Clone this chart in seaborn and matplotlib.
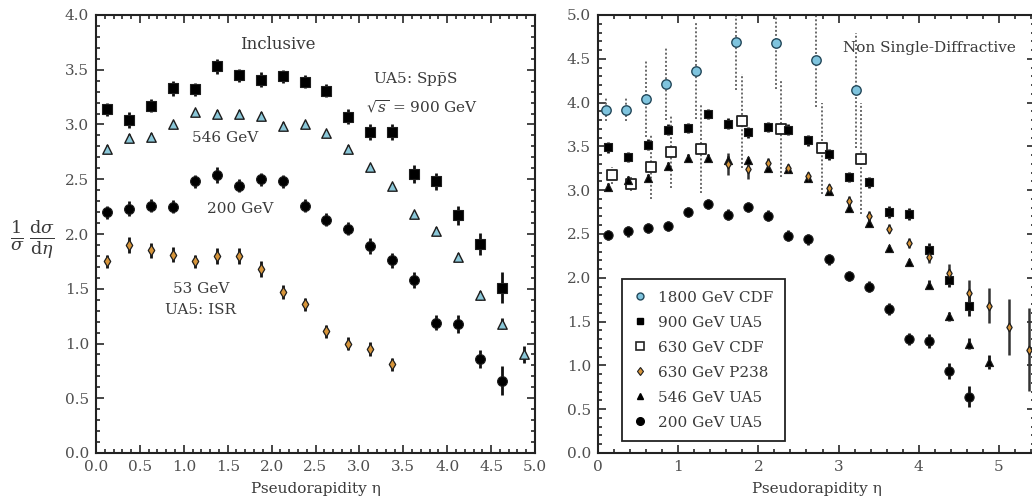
import matplotlib
matplotlib.use("Agg")
import matplotlib.pyplot as plt
from matplotlib.lines import Line2D
from matplotlib.ticker import MultipleLocator, FormatStrFormatter
import seaborn as sns
import pandas as pd

sns.set_style("ticks")
plt.rcParams["font.family"] = ["DejaVu Serif"]
plt.rcParams["mathtext.fontset"] = "dejavuserif"

# ---------------- Inclusive (UA5, ISR) ----------------
eta_incl = [0.125, 0.375, 0.625, 0.875, 1.125, 1.375, 1.625, 1.875, 2.125, 2.375,
            2.625, 2.875, 3.125, 3.375, 3.625, 3.875, 4.125, 4.375, 4.625, 4.875]

incl_900 = [3.14, 3.04, 3.17, 3.33, 3.32, 3.53, 3.45, 3.41, 3.44, 3.39,
            3.31, 3.07, 2.93, 2.93, 2.55, 2.48, 2.17, 1.91, 1.51]
incl_900_err = [0.06, 0.07, 0.06, 0.07, 0.06, 0.07, 0.06, 0.07, 0.06, 0.06,
                0.06, 0.07, 0.07, 0.07, 0.08, 0.08, 0.09, 0.10, 0.14]

incl_546 = [2.78, 2.88, 2.89, 3.00, 3.11, 3.10, 3.10, 3.08, 2.99, 3.00,
            2.92, 2.78, 2.61, 2.44, 2.18, 2.03, 1.79, 1.44, 1.18, 0.90]
incl_546_err = [0.03, 0.03, 0.03, 0.03, 0.03, 0.03, 0.03, 0.03, 0.03, 0.03,
                0.03, 0.03, 0.03, 0.03, 0.03, 0.03, 0.04, 0.04, 0.05, 0.08]

incl_200 = [2.20, 2.23, 2.26, 2.25, 2.48, 2.54, 2.44, 2.50, 2.48, 2.26,
            2.13, 2.05, 1.89, 1.76, 1.58, 1.19, 1.18, 0.86, 0.66]
incl_200_err = [0.06, 0.07, 0.06, 0.06, 0.06, 0.07, 0.06, 0.06, 0.06, 0.06,
                0.06, 0.06, 0.07, 0.07, 0.07, 0.07, 0.08, 0.08, 0.13]

incl_53 = [1.75, 1.90, 1.85, 1.81, 1.75, 1.80, 1.80, 1.68, 1.47, 1.36,
           1.11, 1.00, 0.95, 0.81]
incl_53_err = [0.06, 0.07, 0.07, 0.07, 0.06, 0.07, 0.07, 0.07, 0.06, 0.06,
               0.06, 0.06, 0.06, 0.06]

# ---------------- Non single-diffractive ----------------
eta_nsd = [0.125, 0.375, 0.625, 0.875, 1.125, 1.375, 1.625, 1.875, 2.125, 2.375,
           2.625, 2.875, 3.125, 3.375, 3.625, 3.875, 4.125, 4.375, 4.625, 4.875]

nsd_900 = [3.49, 3.38, 3.52, 3.69, 3.71, 3.87, 3.76, 3.66, 3.72, 3.69,
           3.57, 3.41, 3.15, 3.09, 2.75, 2.73, 2.32, 1.98, 1.68]
nsd_900_err = [0.06, 0.06, 0.06, 0.06, 0.06, 0.06, 0.06, 0.06, 0.06, 0.06,
               0.06, 0.06, 0.06, 0.06, 0.07, 0.07, 0.08, 0.09, 0.12]

nsd_546 = [3.04, 3.12, 3.14, 3.28, 3.37, 3.37, 3.35, 3.34, 3.25, 3.24,
           3.14, 2.99, 2.80, 2.63, 2.34, 2.18, 1.92, 1.56, 1.25, 1.04]
nsd_546_err = [0.04, 0.04, 0.04, 0.04, 0.04, 0.04, 0.04, 0.04, 0.04, 0.04,
               0.04, 0.04, 0.04, 0.04, 0.04, 0.04, 0.05, 0.05, 0.06, 0.08]

nsd_200 = [2.49, 2.53, 2.57, 2.59, 2.75, 2.84, 2.72, 2.81, 2.71, 2.48,
           2.44, 2.21, 2.02, 1.90, 1.64, 1.30, 1.28, 0.94, 0.64]
nsd_200_err = [0.06, 0.06, 0.06, 0.06, 0.06, 0.06, 0.06, 0.06, 0.06, 0.06,
               0.06, 0.06, 0.06, 0.06, 0.07, 0.07, 0.08, 0.09, 0.12]

eta_p238 = [1.625, 1.875, 2.125, 2.375, 2.625, 2.875, 3.125, 3.375,
            3.625, 3.875, 4.125, 4.375, 4.625, 4.875, 5.125, 5.375]
nsd_p238 = [3.30, 3.24, 3.31, 3.25, 3.16, 3.02, 2.88, 2.71,
            2.56, 2.40, 2.24, 2.06, 1.83, 1.68, 1.44, 1.18]
nsd_p238_err = [0.13, 0.11, 0.06, 0.05, 0.05, 0.05, 0.05, 0.05,
                0.05, 0.06, 0.07, 0.10, 0.15, 0.20, 0.32, 0.47]

eta_cdf1800 = [0.10, 0.35, 0.60, 0.85, 1.22, 1.72, 2.22, 2.72, 3.22]
nsd_cdf1800 = [3.92, 3.92, 4.04, 4.21, 4.36, 4.69, 4.68, 4.49, 4.14]
nsd_cdf1800_err = [0.13, 0.13, 0.43, 0.41, 0.55, 0.55, 0.53, 0.54, 0.66]

eta_cdf630 = [0.17, 0.41, 0.66, 0.91, 1.29, 1.79, 2.28, 2.79, 3.28]
nsd_cdf630 = [3.17, 3.07, 3.27, 3.44, 3.47, 3.79, 3.70, 3.48, 3.36]
nsd_cdf630_err = [0.10, 0.08, 0.37, 0.41, 0.50, 0.54, 0.55, 0.52, 0.63]

legend_labels = ["1800 GeV CDF", "900 GeV UA5", "630 GeV CDF",
                 "630 GeV P238", "546 GeV UA5", "200 GeV UA5"]

BLUE = "#7fc4de"
ORANGE = "#d7953a"
EDGE = "#1e1e1e"
TXT = "#3a3a3a"
TICK_TXT = "#4f4f4f"

fig = plt.figure(figsize=(10.32, 5.03), dpi=100)
ax1 = fig.add_axes([96 / 1032, 50 / 503, 439 / 1032, 438 / 503])
ax2 = fig.add_axes([598 / 1032, 50 / 503, 437 / 1032, 438 / 503])


def series(ax, x, y, err, marker, size, face, edge=EDGE, lw=0.8,
           elw=2.0, ecolor="#111111", dotted=False):
    df = pd.DataFrame({"eta": x[:len(y)], "val": y, "err": err})
    lo = df["val"] - df["err"]
    hi = df["val"] + df["err"]
    if dotted:
        ax.vlines(df["eta"], lo, hi, colors="#6a6a6a", linewidth=1.4,
                  linestyles=(0, (1, 1.1)), zorder=1)
    else:
        ax.vlines(df["eta"], lo, hi, colors=ecolor, linewidth=elw, zorder=2)
    sns.scatterplot(data=df, x="eta", y="val", ax=ax, marker=marker, s=size,
                    color=face, edgecolor=edge, linewidth=lw, zorder=3,
                    legend=False)


# Left panel: inclusive distributions
series(ax1, eta_incl, incl_900, incl_900_err, "s", 48, "black")
series(ax1, eta_incl, incl_546, incl_546_err, "^", 46, "#8ac7d8", lw=1.0)
series(ax1, eta_incl, incl_200, incl_200_err, "o", 50, "black")
series(ax1, eta_incl, incl_53, incl_53_err, "d", 30, ORANGE, lw=0.9)

# Right panel: non single-diffractive distributions
series(ax2, eta_cdf630, nsd_cdf630, nsd_cdf630_err, "s", 50, "white",
       edge="#222222", lw=1.3, dotted=True)
series(ax2, eta_cdf1800, nsd_cdf1800, nsd_cdf1800_err, "o", 46, BLUE,
       edge="#23485a", lw=1.0, dotted=True)
series(ax2, eta_nsd, nsd_900, nsd_900_err, "s", 38, "black")
series(ax2, eta_nsd, nsd_546, nsd_546_err, "^", 34, "black")
series(ax2, eta_p238, nsd_p238, nsd_p238_err, "d", 20, ORANGE, lw=0.9,
       elw=1.8, ecolor="#333333")
series(ax2, eta_nsd, nsd_200, nsd_200_err, "o", 44, "black")

for ax in (ax1, ax2):
    ax.set_xlabel("Pseudorapidity η", fontsize=11, color=TXT, labelpad=6)
    ax.set_ylabel("")
    ax.tick_params(which="both", direction="in", top=True, right=True,
                   labelsize=11, labelcolor=TICK_TXT, width=1.2, pad=5)
    ax.tick_params(which="major", length=6)
    ax.tick_params(which="minor", length=3)
    for sp in ax.spines.values():
        sp.set_linewidth(1.5)
        sp.set_color("#222222")
    ax.yaxis.set_major_formatter(FormatStrFormatter("%.1f"))
    ax.yaxis.set_minor_locator(MultipleLocator(0.1))

ax1.set_xlim(0, 5.0)
ax1.set_ylim(0, 4.0)
ax1.xaxis.set_major_locator(MultipleLocator(0.5))
ax1.xaxis.set_minor_locator(MultipleLocator(0.1))
ax1.xaxis.set_major_formatter(FormatStrFormatter("%.1f"))
ax1.yaxis.set_major_locator(MultipleLocator(0.5))

ax2.set_xlim(0, 5.45)
ax2.set_ylim(0, 5.0)
ax2.xaxis.set_major_locator(MultipleLocator(1))
ax2.xaxis.set_minor_locator(MultipleLocator(0.2))
ax2.xaxis.set_major_formatter(FormatStrFormatter("%d"))
ax2.yaxis.set_major_locator(MultipleLocator(0.5))

# Annotations
ax1.text(2.07, 3.73, "Inclusive", ha="center", va="center", fontsize=12, color=TXT)
ax1.text(3.63, 3.42, r"UA5: Sp$\bar{\mathrm{p}}$S", ha="center", va="center",
         fontsize=11, color=TXT)
ax1.text(3.71, 3.16, r"$\sqrt{s}$ = 900 GeV", ha="center", va="center",
         fontsize=11, color=TXT)
ax1.text(1.47, 2.88, "546 GeV", ha="center", va="center", fontsize=11, color=TXT)
ax1.text(1.64, 2.23, "200 GeV", ha="center", va="center", fontsize=11, color=TXT)
ax1.text(1.20, 1.50, "53 GeV", ha="center", va="center", fontsize=11, color=TXT)
ax1.text(1.19, 1.31, "UA5: ISR", ha="center", va="center", fontsize=11, color=TXT)
ax2.text(4.13, 4.62, "Non Single-Diffractive", ha="center", va="center",
         fontsize=11, color=TXT)

fig.text(0.031, 0.521,
         r"$\frac{1}{\sigma}\,\frac{\mathrm{d}\sigma}{\mathrm{d}\eta}$",
         ha="center", va="center", fontsize=18, color=TXT)

handles = [
    Line2D([], [], ls="none", marker="o", ms=5, mfc=BLUE, mec="#23485a"),
    Line2D([], [], ls="none", marker="s", ms=5, mfc="black", mec="black"),
    Line2D([], [], ls="none", marker="s", ms=5.5, mfc="white", mec="#222222", mew=1.2),
    Line2D([], [], ls="none", marker="d", ms=4.5, mfc=ORANGE, mec=EDGE, mew=0.8),
    Line2D([], [], ls="none", marker="^", ms=5, mfc="black", mec="black"),
    Line2D([], [], ls="none", marker="o", ms=5.5, mfc="black", mec="black"),
]
leg = ax2.legend(handles, legend_labels, loc="lower left",
                 bbox_to_anchor=(0.055, 0.027), fontsize=11, frameon=True,
                 fancybox=False, framealpha=1, edgecolor="#222222",
                 handlelength=0.9, handletextpad=0.7, labelspacing=0.72,
                 borderpad=0.75, borderaxespad=0)
leg.get_frame().set_linewidth(1.3)
for t in leg.get_texts():
    t.set_color(TXT)

fig.savefig("out.png", dpi=100)
